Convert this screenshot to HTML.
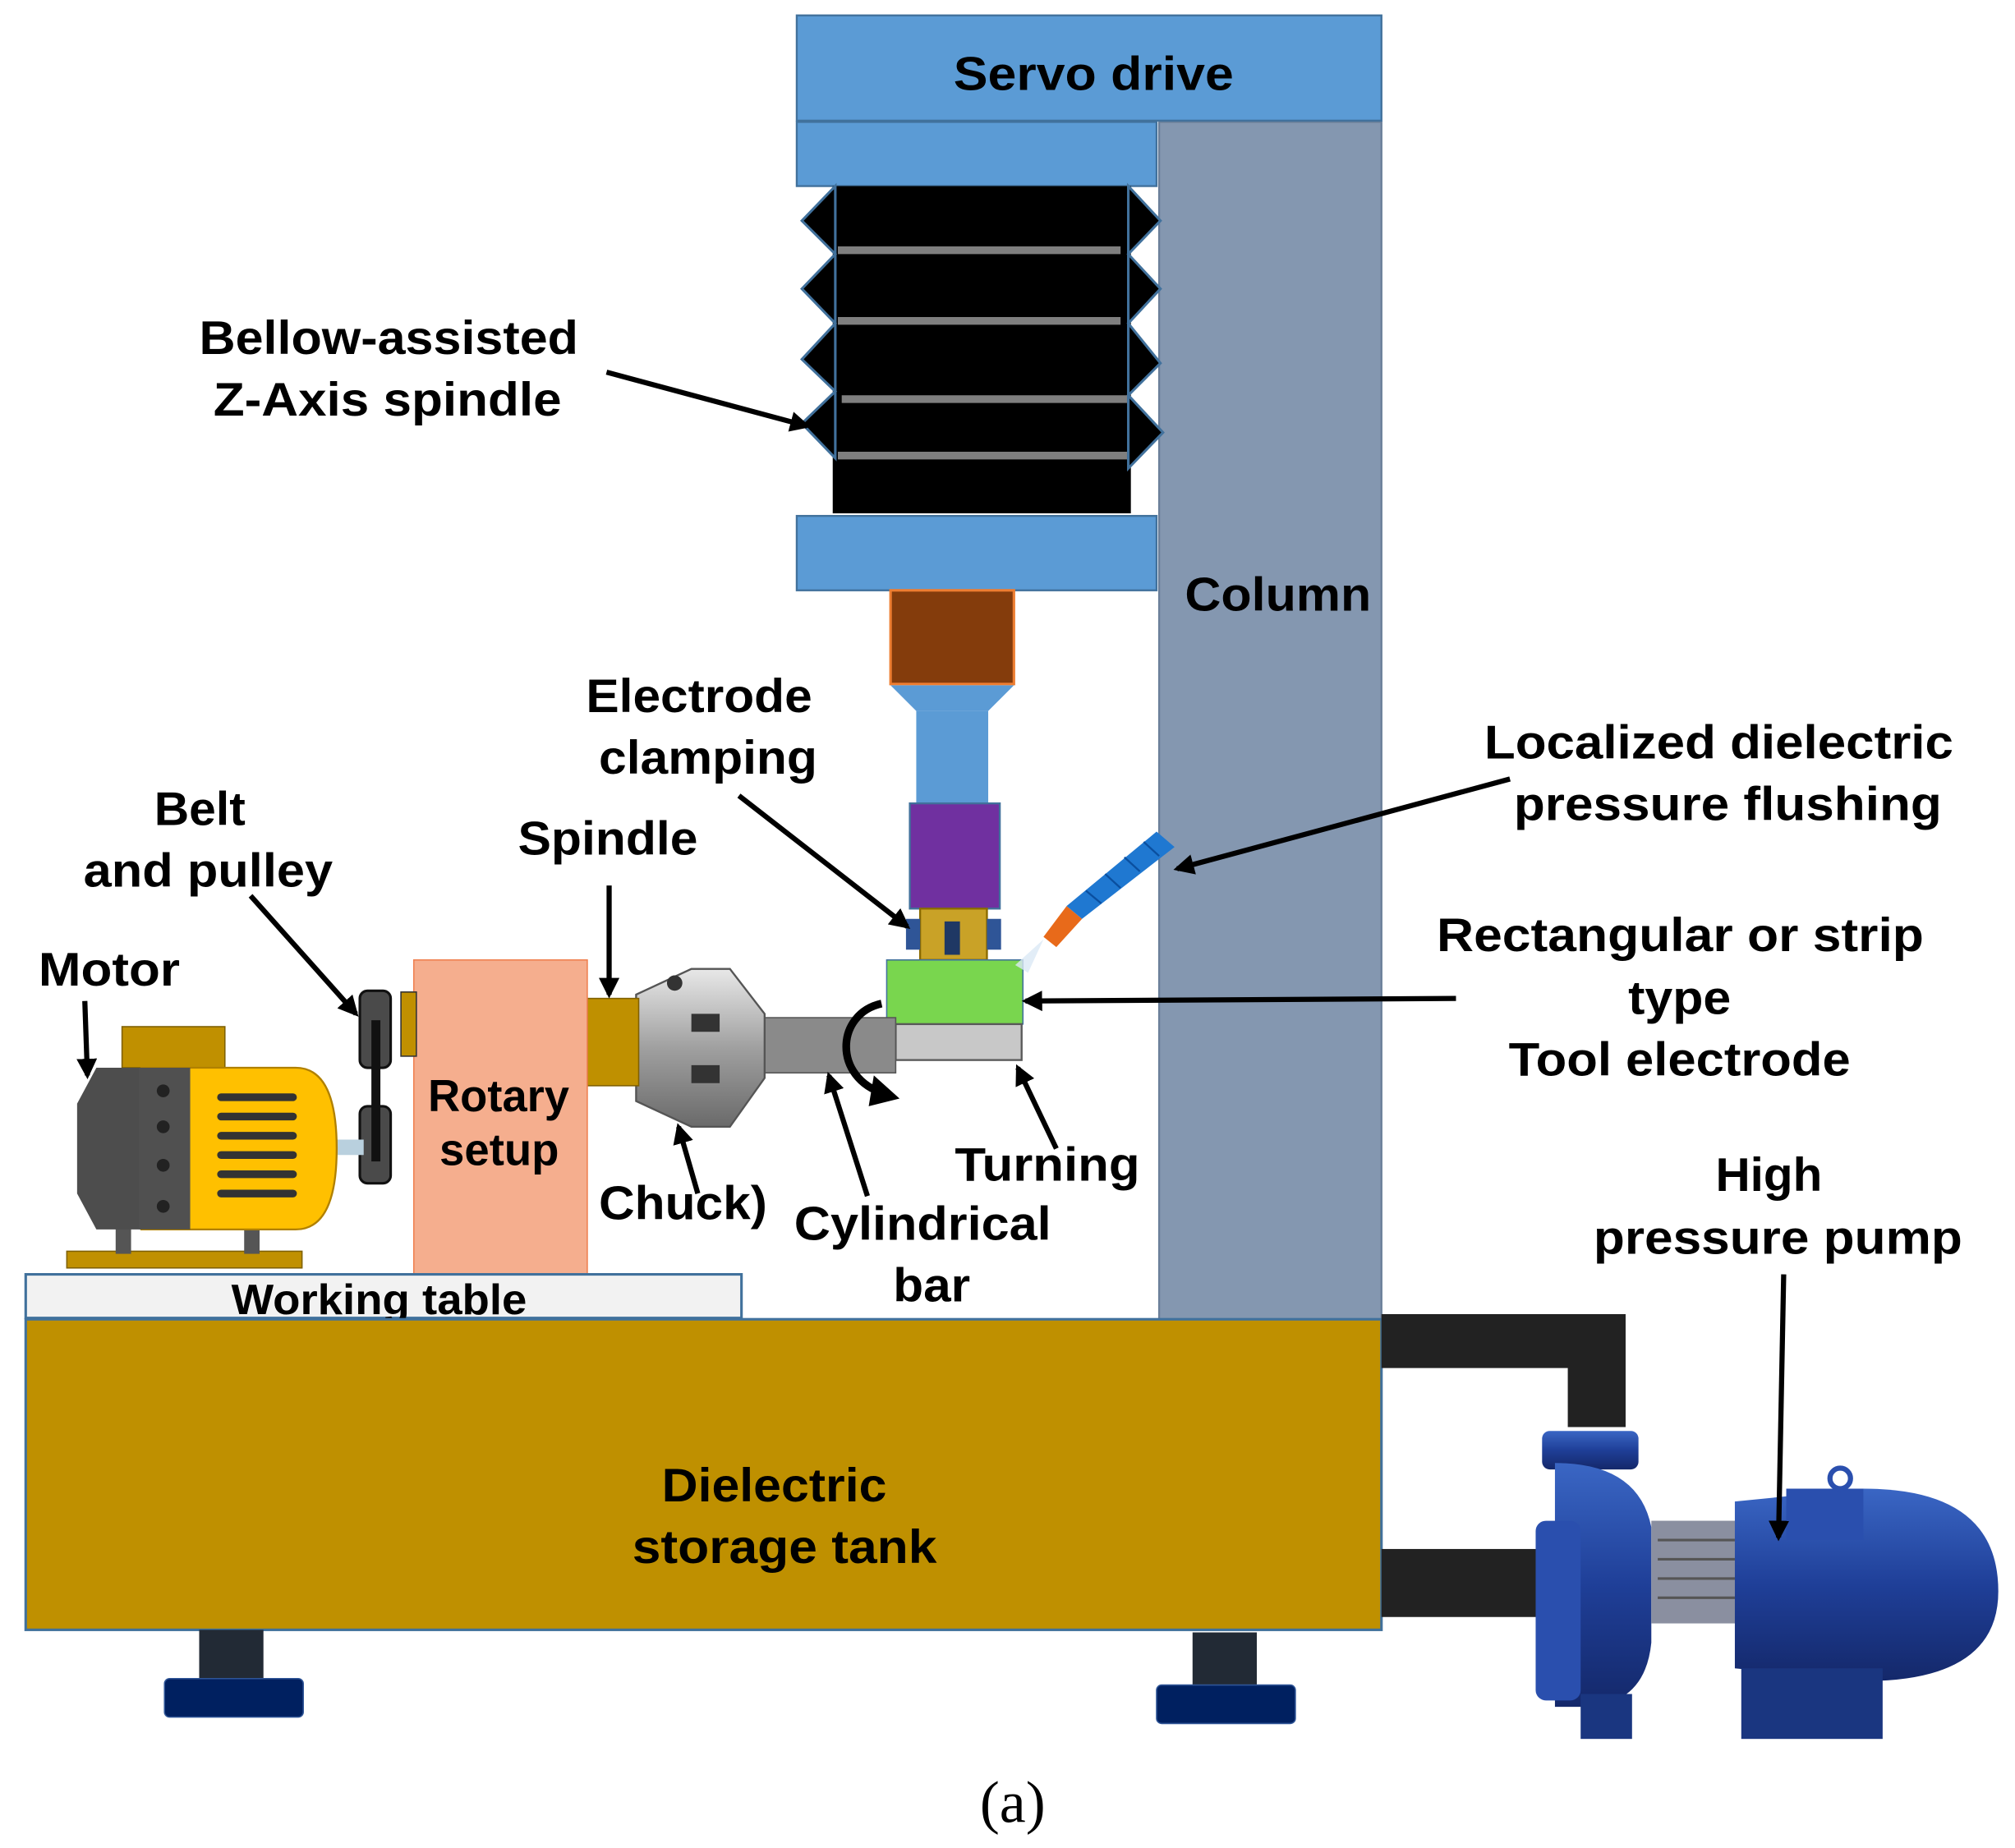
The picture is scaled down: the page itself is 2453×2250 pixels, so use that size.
<!DOCTYPE html>
<html><head><meta charset="utf-8"><style>
html,body{margin:0;padding:0;background:#fff}
svg{display:block}
text{font-family:"Liberation Sans",Arial,sans-serif;font-weight:bold;fill:#000}
</style></head><body>
<svg width="2453" height="2250" viewBox="0 0 1568 1440" preserveAspectRatio="none" xmlns="http://www.w3.org/2000/svg">
<defs>
<marker id="ah2" markerWidth="16" markerHeight="16" refX="13" refY="8" orient="auto" markerUnits="userSpaceOnUse"><path d="M0,0 L16,8 L0,16 z" fill="#000"/></marker>
<linearGradient id="sil" x1="0" y1="0" x2="0" y2="1"><stop offset="0" stop-color="#e8e8e8"/><stop offset="0.5" stop-color="#a0a0a0"/><stop offset="1" stop-color="#6a6a6a"/></linearGradient>
<linearGradient id="pump" x1="0" y1="0" x2="0" y2="1"><stop offset="0" stop-color="#3a66c4"/><stop offset="0.5" stop-color="#1f3f98"/><stop offset="1" stop-color="#14286a"/></linearGradient>
</defs>
<rect width="1568" height="1440" fill="#fff"/>
<rect x="902" y="95" width="173" height="935" fill="#8497B0" stroke="#6b7f99" stroke-width="1.5"/>
<rect x="620" y="12" width="455" height="82" fill="#5B9BD5" stroke="#41719C" stroke-width="1.5"/>
<text x="742" y="70" font-size="37" textLength="218" lengthAdjust="spacingAndGlyphs">Servo drive</text>
<rect x="620" y="95" width="280" height="50" fill="#5B9BD5" stroke="#41719C" stroke-width="1.5"/>
<rect x="648" y="145" width="232" height="255" fill="#000"/>
<path d="M650,145 L624,172 L650,198 L624,225 L650,252 L624,280 L650,305 L624,330 L650,357 L650,145z" fill="#000" stroke="#41719C" stroke-width="2"/>
<path d="M878,145 L903,172 L878,198 L903,225 L878,252 L903,283 L878,308 L905,337 L878,365 z" fill="#000" stroke="#41719C" stroke-width="2"/>
<g stroke="#7f7f7f" stroke-width="6"><line x1="652" y1="195" x2="872" y2="195"/><line x1="652" y1="250" x2="872" y2="250"/><line x1="655" y1="311" x2="877" y2="311"/><line x1="652" y1="355" x2="877" y2="355"/></g>
<rect x="620" y="402" width="280" height="58" fill="#5B9BD5" stroke="#41719C" stroke-width="1.5"/>
<rect x="693" y="460" width="96" height="73" fill="#843C0C" stroke="#ED7D31" stroke-width="2"/>
<path d="M693,534 L789,534 L769,554 L713,554z" fill="#5B9BD5"/>
<rect x="713" y="554" width="56" height="72" fill="#5B9BD5"/>
<rect x="708" y="626" width="70" height="82" fill="#7030A0" stroke="#41719C" stroke-width="1.5"/>
<rect x="716" y="708" width="52" height="40" fill="#C9A227" stroke="#8a6a00" stroke-width="1.5"/>
<rect x="735" y="718" width="12" height="26" fill="#1f3864"/>
<rect x="705" y="716" width="11" height="24" fill="#2f5597"/>
<rect x="768" y="716" width="11" height="24" fill="#2f5597"/>
<rect x="690" y="748" width="106" height="50" fill="#79D64E" stroke="#41719C" stroke-width="1"/>
<rect x="697" y="798" width="98" height="28" fill="#C8C8C8" stroke="#595959" stroke-width="1.5"/>
<path d="M812,730 L830,706 L842,716 L822,738z" fill="#E86A1A"/>
<path d="M830,706 L900,648 L914,660 L842,716z" fill="#1F78D1"/>
<g stroke="#0a4f9f" stroke-width="1.5"><line x1="845" y1="694" x2="857" y2="704"/><line x1="860" y1="681" x2="872" y2="692"/><line x1="875" y1="668" x2="887" y2="679"/><line x1="890" y1="656" x2="902" y2="667"/></g>
<path d="M812,732 L790,752 L800,758z" fill="#dbe9f5" opacity="0.8"/>
<rect x="592" y="793" width="105" height="43" fill="#8a8a8a" stroke="#555" stroke-width="1"/>
<path d="M686,782 C650,790 648,840 688,852" fill="none" stroke="#000" stroke-width="6"/>
<path d="M680,838 L700,856 L676,862z" fill="#000"/>
<path d="M495,775 L538,755 L568,755 L595,790 L595,840 L568,878 L538,878 L495,858z" fill="url(#sil)" stroke="#555" stroke-width="1.5"/>
<rect x="538" y="790" width="22" height="14" fill="#333"/><rect x="538" y="830" width="22" height="14" fill="#333"/>
<circle cx="525" cy="766" r="6" fill="#333"/>
<rect x="457" y="778" width="40" height="68" fill="#BF9000" stroke="#7f6000" stroke-width="1"/>
<rect x="322" y="748" width="135" height="245" fill="#F5AE8E" stroke="#f08050" stroke-width="1"/>
<text x="333" y="866" font-size="35" textLength="110" lengthAdjust="spacingAndGlyphs">Rotary</text>
<text x="342" y="908" font-size="35" textLength="93" lengthAdjust="spacingAndGlyphs">setup</text>
<rect x="312" y="773" width="12" height="50" fill="#C09000" stroke="#333"/>
<rect x="280" y="772" width="24" height="60" rx="6" fill="#4a4a4a" stroke="#111" stroke-width="2"/>
<rect x="280" y="862" width="24" height="60" rx="6" fill="#4a4a4a" stroke="#111" stroke-width="2"/>
<rect x="289" y="795" width="7" height="110" fill="#111"/>
<rect x="258" y="888" width="25" height="12" fill="#b9d0de"/>
<rect x="95" y="800" width="80" height="32" fill="#C09000" stroke="#7f6000"/>
<rect x="52" y="975" width="183" height="13" fill="#C09000" stroke="#7f6000"/>
<rect x="90" y="955" width="12" height="22" fill="#555"/><rect x="190" y="955" width="12" height="22" fill="#555"/>
<path d="M110,832 L230,832 Q262,832 262,895 Q262,958 230,958 L110,958z" fill="#FFC000" stroke="#b08000" stroke-width="1.5"/>
<path d="M60,860 L75,832 L110,832 L110,958 L75,958 L60,930z" fill="#4d4d4d"/>
<rect x="108" y="832" width="40" height="126" fill="#505050"/>
<g fill="#222"><circle cx="127" cy="850" r="5"/><circle cx="127" cy="878" r="5"/><circle cx="127" cy="908" r="5"/><circle cx="127" cy="940" r="5"/></g>
<g stroke="#333" stroke-width="6" stroke-linecap="round"><line x1="172" y1="855" x2="228" y2="855"/><line x1="172" y1="870" x2="228" y2="870"/><line x1="172" y1="885" x2="228" y2="885"/><line x1="172" y1="900" x2="228" y2="900"/><line x1="172" y1="915" x2="228" y2="915"/><line x1="172" y1="930" x2="228" y2="930"/></g>
<rect x="20" y="993" width="557" height="34" fill="#F2F2F2" stroke="#41719C" stroke-width="2"/>
<text x="180" y="1024" font-size="33" textLength="230" lengthAdjust="spacingAndGlyphs">Working table</text>
<rect x="20" y="1028" width="1055" height="242" fill="#BF9000" stroke="#41719C" stroke-width="2"/>
<text x="515" y="1170" font-size="37" textLength="175" lengthAdjust="spacingAndGlyphs">Dielectric</text>
<text x="492" y="1218" font-size="37" textLength="237" lengthAdjust="spacingAndGlyphs">storage tank</text>
<rect x="155" y="1270" width="50" height="40" fill="#222A35"/>
<rect x="128" y="1308" width="108" height="30" rx="4" fill="#002060" stroke="#2f5597"/>
<rect x="928" y="1272" width="50" height="42" fill="#222A35"/>
<rect x="900" y="1313" width="108" height="30" rx="4" fill="#002060" stroke="#2f5597"/>
<path d="M1075,1024 L1265,1024 L1265,1112 L1220,1112 L1220,1066 L1075,1066z" fill="#222"/>
<rect x="1075" y="1207" width="122" height="53" fill="#222"/>
<rect x="1200" y="1115" width="75" height="30" rx="6" fill="url(#pump)"/>
<path d="M1210,1140 Q1275,1140 1285,1190 L1285,1280 Q1280,1330 1230,1330 L1210,1330z" fill="url(#pump)"/>
<rect x="1195" y="1185" width="35" height="140" rx="8" fill="#2a4fae"/>
<rect x="1285" y="1185" width="70" height="80" fill="#8a8fa0"/>
<g stroke="#555" stroke-width="2"><line x1="1290" y1="1200" x2="1350" y2="1200"/><line x1="1290" y1="1215" x2="1350" y2="1215"/><line x1="1290" y1="1230" x2="1350" y2="1230"/><line x1="1290" y1="1245" x2="1350" y2="1245"/></g>
<path d="M1350,1170 L1450,1160 Q1555,1160 1555,1240 Q1555,1310 1450,1310 L1350,1300z" fill="url(#pump)"/>
<rect x="1390" y="1160" width="60" height="40" fill="#2a4fae"/>
<circle cx="1432" cy="1152" r="8" fill="none" stroke="#2a4fae" stroke-width="4"/>
<rect x="1230" y="1320" width="40" height="35" fill="#1a3680"/>
<rect x="1355" y="1300" width="110" height="55" fill="#1a3680"/>
<g font-size="37" lengthAdjust="spacingAndGlyphs">
<text x="155" y="276" textLength="295" lengthAdjust="spacingAndGlyphs">Bellow-assisted</text>
<text x="166" y="324" textLength="271" lengthAdjust="spacingAndGlyphs">Z-Axis spindle</text>
<text x="922" y="476" textLength="145" lengthAdjust="spacingAndGlyphs">Column</text>
<text x="456" y="555" textLength="176" lengthAdjust="spacingAndGlyphs">Electrode</text>
<text x="466" y="603" textLength="170" lengthAdjust="spacingAndGlyphs">clamping</text>
<text x="403" y="666" textLength="140" lengthAdjust="spacingAndGlyphs">Spindle</text>
<text x="120" y="643" textLength="71" lengthAdjust="spacingAndGlyphs">Belt</text>
<text x="65" y="691" textLength="194" lengthAdjust="spacingAndGlyphs">and pulley</text>
<text x="30" y="768" textLength="110" lengthAdjust="spacingAndGlyphs">Motor</text>
<text x="1155" y="591" textLength="365" lengthAdjust="spacingAndGlyphs">Localized dielectric</text>
<text x="1178" y="639" textLength="333" lengthAdjust="spacingAndGlyphs">pressure flushing</text>
<text x="1118" y="741" textLength="379" lengthAdjust="spacingAndGlyphs">Rectangular or strip</text>
<text x="1267" y="790" textLength="80" lengthAdjust="spacingAndGlyphs">type</text>
<text x="1174" y="838" textLength="266" lengthAdjust="spacingAndGlyphs">Tool electrode</text>
<text x="743" y="920" textLength="144" lengthAdjust="spacingAndGlyphs">Turning</text>
<text x="618" y="966" textLength="200" lengthAdjust="spacingAndGlyphs">Cylindrical</text>
<text x="695" y="1014" textLength="60" lengthAdjust="spacingAndGlyphs">bar</text>
<text x="466" y="950" textLength="131" lengthAdjust="spacingAndGlyphs">Chuck)</text>
<text x="1335" y="928" textLength="83" lengthAdjust="spacingAndGlyphs">High</text>
<text x="1240" y="977" textLength="287" lengthAdjust="spacingAndGlyphs">pressure pump</text>
</g>
<text x="788" y="1420" font-size="46" text-anchor="middle" style="font-family:'Liberation Serif',serif;font-weight:normal">(a)</text>
<g stroke="#000" stroke-width="4" fill="none">
<line x1="472" y1="290" x2="628" y2="332" marker-end="url(#ah2)"/>
<line x1="575" y1="620" x2="706" y2="722" marker-end="url(#ah2)"/>
<line x1="474" y1="690" x2="474" y2="775" marker-end="url(#ah2)"/>
<line x1="195" y1="698" x2="277" y2="790" marker-end="url(#ah2)"/>
<line x1="66" y1="780" x2="68" y2="838" marker-end="url(#ah2)"/>
<line x1="1175" y1="607" x2="916" y2="677" marker-end="url(#ah2)"/>
<line x1="1133" y1="778" x2="798" y2="780" marker-end="url(#ah2)"/>
<line x1="822" y1="895" x2="792" y2="832" marker-end="url(#ah2)"/>
<line x1="675" y1="932" x2="645" y2="838" marker-end="url(#ah2)"/>
<line x1="543" y1="930" x2="528" y2="878" marker-end="url(#ah2)"/>
<line x1="1388" y1="993" x2="1384" y2="1198" marker-end="url(#ah2)"/>
</g>
</svg>
</body></html>
